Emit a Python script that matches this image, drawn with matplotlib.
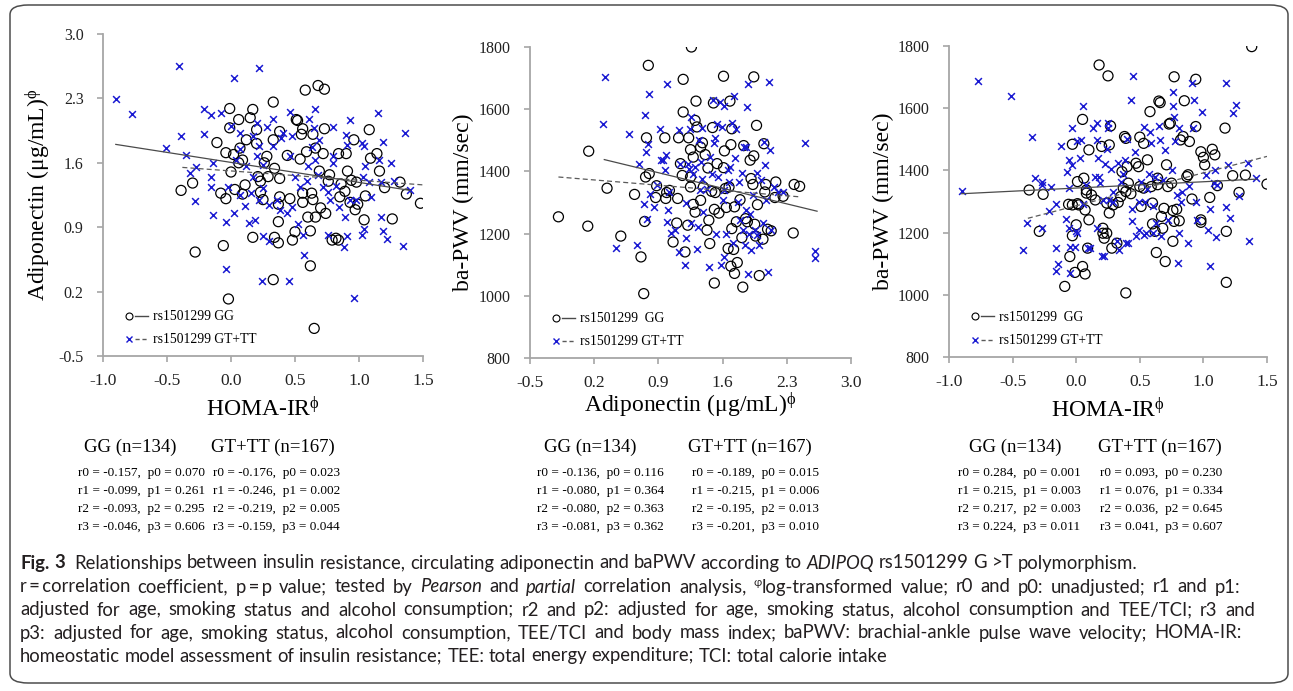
import re
import matplotlib
matplotlib.use("Agg")
import matplotlib.pyplot as plt
from matplotlib import font_manager
from matplotlib.lines import Line2D
from matplotlib.legend_handler import HandlerTuple
from matplotlib.patches import FancyBboxPatch

plt.rcParams['font.family'] = ['Liberation Serif', 'DejaVu Serif']
plt.rcParams['mathtext.fontset'] = 'custom'
plt.rcParams['mathtext.rm'] = 'Liberation Serif'
plt.rcParams['mathtext.it'] = 'Liberation Serif:italic'
plt.rcParams['mathtext.fallback'] = 'stix'
plt.rcParams['axes.unicode_minus'] = False

W, H = 1293, 691

# ---- panel 1: HOMA-IR vs adiponectin ----
p1_gg_x = [-0.39, -0.30, -0.28, -0.11, -0.08, -0.04, -0.06, -0.02, -0.01, -0.01, 0.00, -0.04, 0.02, 0.03, 0.06, 0.07,
           0.06, 0.09, 0.09, 0.12, 0.11, 0.15, 0.17, 0.17, 0.20, 0.20, 0.21, 0.23, 0.23, 0.25, 0.26, 0.28, 0.29, 0.33,
           0.33, 0.34, 0.34, 0.33, 0.38, 0.38, 0.38, 0.37, 0.37, 0.37, 0.44, 0.46, 0.48, 0.50, 0.51, 0.52, 0.54, 0.55,
           0.56, 0.56, 0.56, 0.58, 0.59, 0.60, 0.62, 0.62, 0.63, 0.64, 0.64, 0.65, 0.66, 0.66, 0.68, 0.69, 0.72, 0.73,
           0.73, 0.70, 0.74, 0.76, 0.77, 0.79, 0.82, 0.84, 0.84, 0.85, 0.86, 0.89, 0.90, 0.91, 0.93, 0.94, 0.96, 0.97,
           0.98, 0.99, 1.04, 1.05, 1.08, 1.09, 1.14, 1.16, 1.20, 1.26, 1.32, 1.37, 1.48]
p1_gg_y = [1.30, 1.38, 0.63, 1.82, 1.27, 1.21, 0.70, 0.12, 2.19, 1.98, 1.50, 1.71, 1.69, 1.31, 2.07, 1.76,
           1.60, 1.63, 1.26, 1.85, 1.36, 2.09, 2.18, 0.79, 1.96, 1.81, 1.45, 1.40, 1.28, 1.20, 1.60, 1.67, 1.45, 2.26,
           1.85, 1.54, 0.79, 0.33, 1.94, 1.43, 1.23, 1.15, 0.96, 0.73, 1.68, 1.21, 0.76, 0.85, 2.07, 2.06, 1.64, 1.91,
           1.97, 1.27, 1.17, 2.39, 1.72, 1.01, 0.86, 0.48, 1.27, 1.91, 1.20, -0.20, 1.01, 1.76, 2.44, 1.51, 1.70, 2.40,
           1.97, 1.11, 1.05, 1.40, 1.47, 0.76, 0.78, 0.76, 1.70, 1.23, 1.37, 1.29, 1.70, 1.51, 1.17, 1.41, 1.85, 1.09,
           1.39, 1.15, 0.98, 1.24, 1.96, 1.65, 1.70, 1.51, 1.33, 0.99, 1.39, 1.26, 1.16]
p1_gt_x = [-0.90, -0.77, -0.41, 0.02, 0.22, -0.39, -0.51, -0.35, -0.32, -0.27, -0.21, -0.16, -0.21, -0.08, -0.14, -0.16,
           -0.16, -0.28, -0.14, -0.04, 0.02, -0.04, 0.00, 0.07, 0.04, -0.02, 0.07, 0.11, 0.14, 0.19, 0.17, 0.20, 0.22,
           0.20, 0.25, 0.28, 0.33, 0.33, 0.25, 0.22, 0.30, 0.25, 0.30, 0.24, 0.45, 0.41, 0.39, 0.46, 0.48, 0.46, 0.50,
           0.44, 0.48, 0.52, 0.56, 0.57, 0.61, 0.66, 0.65, 0.69, 0.66, 0.68, 0.72, 0.76, 0.80, 0.80, 0.80, 0.77, 0.76,
           0.88, 0.89, 0.90, 0.93, 0.91, 0.93, 0.91, 0.96, 0.98, 1.02, 1.04, 1.05, 1.03, 1.02, 1.04, 1.09, 1.08, 1.15,
           1.16, 1.19, 1.17, 1.17, 1.19, 1.22, 1.25, 1.27, 1.36, 1.34, 1.40, 0.07, 0.12, 0.17, 0.16, 0.36, 0.38, 0.54,
           0.59, 0.60, 0.63, 0.82, 0.84]
p1_gt_y = [2.29, 2.13, 2.65, 2.52, 2.63, 1.89, 1.76, 1.69, 1.49, 1.55, 2.18, 2.12, 1.91, 2.14, 1.60, 1.45,
           1.34, 1.18, 1.03, 0.96, 1.05, 0.45, 2.00, 1.92, 1.63, 1.34, 1.25, 1.13, 0.95, 0.98, 1.89, 2.03, 1.78,
           1.67, 1.58, 1.99, 2.08, 1.78, 1.33, 1.20, 1.14, 0.80, 0.75, 0.32, 0.32, 1.92, 1.87, 2.15, 1.89, 1.67, 1.45,
           1.05, 1.12, 0.94, 0.81, 0.60, 2.08, 2.19, 1.98, 1.85, 1.63, 1.47, 1.34, 1.28, 1.99, 1.67, 1.60, 1.20, 0.82,
           0.69, 1.01, 1.90, 2.06, 1.79, 1.20, 0.80, 0.13, 1.20, 1.82, 1.78, 1.57, 1.45, 0.82, 0.88, 1.23, 1.39, 2.14,
           1.63, 1.83, 1.39, 1.01, 0.86, 0.77, 1.60, 1.40, 1.92, 0.70, 1.30, 1.75, 1.56, 1.45, 1.27, 1.20, 1.09, 1.34,
           1.40, 1.56, 1.77, 1.35, 1.12]
p1_gg_fit_x = [-0.90, 1.40]
p1_gg_fit_y = [1.80, 1.30]
p1_gt_fit_x = [-0.38, 1.50]
p1_gt_fit_y = [1.55, 1.36]

# ---- panel 2: adiponectin vs ba-PWV ----
p2_gg_x = [-0.19, 0.13, 0.14, 0.34, 0.49, 0.64, 0.71, 0.74, 0.75, 0.77, 0.79, 0.76, 0.80, 0.87, 0.88, 0.97, 0.98,
           0.99, 1.02, 1.06, 1.10, 1.11, 1.12, 1.14, 1.16, 1.17, 1.17, 1.19, 1.22, 1.23, 1.25, 1.25, 1.25, 1.26, 1.28,
           1.28, 1.30, 1.31, 1.32, 1.30, 1.36, 1.36, 1.38, 1.39, 1.41, 1.43, 1.44, 1.45, 1.46, 1.48, 1.49, 1.50, 1.51,
           1.51, 1.52, 1.54, 1.56, 1.61, 1.61, 1.62, 1.63, 1.64, 1.66, 1.67, 1.68, 1.69, 1.69, 1.70, 1.70, 1.72, 1.73,
           1.73, 1.75, 1.76, 1.79, 1.81, 1.82, 1.83, 1.85, 1.87, 1.90, 1.91, 1.93, 1.94, 1.94, 1.95, 1.96, 1.97, 1.98,
           2.00, 2.04, 2.05, 2.06, 2.07, 2.09, 2.13, 2.17, 2.18, 2.26, 2.37, 2.38, 2.44]
p2_gg_y = [1254, 1224, 1465, 1346, 1192, 1326, 1125, 1007, 1239, 1508, 1741, 1382, 1393, 1316, 1354, 1508, 1313,
           1332, 1339, 1173, 1234, 1313, 1508, 1425, 1387, 1696, 1591, 1141, 1227, 1508, 1470, 1382, 1350, 1800, 1446,
           1294, 1564, 1626, 1543, 1269, 1478, 1307, 1492, 1350, 1454, 1211, 1411, 1243, 1168, 1336, 1541, 1620, 1278,
           1041, 1332, 1425, 1266, 1706, 1412, 1466, 1345, 1284, 1152, 1350, 1626, 1486, 1095, 1216, 1537, 1149, 1072,
           1286, 1238, 1107, 1309, 1187, 1028, 1483, 1248, 1238, 1436, 1377, 1358, 1704, 1450, 1230, 1192, 1548, 1293,
           1065, 1182, 1489, 1334, 1358, 1214, 1209, 1316, 1366, 1320, 1202, 1358, 1352]
p2_gt_x = [0.32, 0.30, 0.44, 0.58, 0.67, 0.69, 0.74, 0.75, 0.77, 0.79, 0.80, 0.78, 0.81, 0.85, 0.88, 0.92, 0.93,
           0.95, 0.97, 0.98, 0.99, 0.99, 1.01, 1.02, 1.04, 1.08, 1.12, 1.13, 1.14, 1.19, 1.20, 1.20, 1.22, 1.23, 1.24,
           1.25, 1.26, 1.28, 1.30, 1.32, 1.33, 1.34, 1.35, 1.36, 1.37, 1.38, 1.39, 1.43, 1.45, 1.46, 1.48, 1.49, 1.51,
           1.52, 1.53, 1.54, 1.55, 1.57, 1.58, 1.59, 1.60, 1.61, 1.62, 1.62, 1.64, 1.66, 1.67, 1.68, 1.70, 1.71, 1.72,
           1.74, 1.75, 1.77, 1.78, 1.79, 1.81, 1.82, 1.83, 1.84, 1.85, 1.86, 1.87, 1.88, 1.88, 1.89, 1.90, 1.91, 1.93,
           1.95, 1.97, 1.98, 2.00, 2.02, 2.04, 2.05, 2.06, 2.07, 2.09, 2.11, 2.12, 2.13, 2.16, 2.20, 2.26, 2.50, 2.61,
           2.61]
p2_gt_y = [1704, 1551, 1153, 1521, 1164, 1425, 1296, 1582, 1463, 1487, 1650, 1248, 1328, 1286, 1355, 1537, 1436,
           1436, 1403, 1452, 1682, 1237, 1277, 1334, 1202, 1211, 1532, 1141, 1425, 1100, 1187, 1298, 1425, 1409, 1537,
           1234, 1575, 1393, 1414, 1152, 1221, 1500, 1339, 1430, 1541, 1377, 1269, 1345, 1093, 1446, 1393, 1628, 1491,
           1508, 1200, 1551, 1382, 1623, 1098, 1543, 1307, 1339, 1609, 1125, 1200, 1403, 1366, 1414, 1555, 1170, 1641,
           1444, 1537, 1302, 1366, 1243, 1395, 1211, 1478, 1162, 1478, 1275, 1607, 1680, 1069, 1200, 1264, 1146, 1323,
           1211, 1195, 1395, 1162, 1371, 1234, 1494, 1420, 1307, 1076, 1687, 1470, 1211, 1350, 1334, 1334, 1491, 1144,
           1123]
p2_gg_fit_x = [0.31, 2.63]
p2_gg_fit_y = [1438, 1272]
p2_gt_fit_x = [-0.19, 2.45]
p2_gt_fit_y = [1382, 1318]

# ---- panel 3: HOMA-IR vs ba-PWV ----
p3_gg_x = [-0.37, -0.26, -0.29, -0.09, -0.06, -0.05, -0.03, -0.03, -0.01, -0.03, 0.00, 0.01, 0.01, 0.02, 0.05, 0.05,
           0.06, 0.07, 0.07, 0.08, 0.08, 0.10, 0.09, 0.10, 0.12, 0.15, 0.18, 0.20, 0.21, 0.21, 0.22, 0.24, 0.24, 0.25,
           0.26, 0.26, 0.27, 0.28, 0.29, 0.32, 0.33, 0.35, 0.36, 0.37, 0.38, 0.39, 0.39, 0.39, 0.40, 0.41, 0.43, 0.47,
           0.49, 0.50, 0.50, 0.51, 0.53, 0.53, 0.56, 0.58, 0.59, 0.60, 0.60, 0.62, 0.63, 0.64, 0.64, 0.65, 0.66, 0.67,
           0.68, 0.69, 0.70, 0.71, 0.72, 0.73, 0.74, 0.75, 0.76, 0.76, 0.77, 0.77, 0.79, 0.81, 0.82, 0.84, 0.85, 0.87,
           0.88, 0.89, 0.91, 0.94, 0.94, 0.98, 0.98, 0.98, 1.00, 1.01, 1.05, 1.07, 1.09, 1.11, 1.17, 1.18, 1.18, 1.23,
           1.28, 1.33, 1.38, 1.50]
p3_gg_y = [1337, 1323, 1204, 1027, 1291, 1123, 1484, 1289, 1072, 1190, 1225, 1364, 1293, 1289, 1091, 1564,
           1375, 1273, 1067, 1337, 1327, 1466, 1150, 1241, 1321, 1305, 1739, 1477, 1214, 1198, 1182, 1198, 1295, 1704,
           1482, 1263, 1543, 1150, 1289, 1166, 1297, 1316, 1396, 1343, 1509, 1503, 1006, 1332, 1412, 1359, 1325, 1423,
           1412, 1507, 1348, 1284, 1487, 1343, 1434, 1589, 1348, 1295, 1228, 1204, 1136, 1354, 1375, 1623, 1618, 1252,
           1214, 1278, 1107, 1418, 1348, 1549, 1552, 1359, 1271, 1172, 1236, 1701, 1275, 1238, 1498, 1509, 1624, 1380,
           1386, 1493, 1308, 1693, 1541, 1241, 1233, 1460, 1442, 1418, 1313, 1468, 1450, 1351, 1536, 1204, 1040, 1383,
           1329, 1385, 1798, 1356]
p3_gt_x = [-0.77, -0.51, -0.35, -0.32, -0.27, -0.27, -0.39, -0.42, -0.27, -0.21, -0.20, -0.16, -0.16, -0.14, -0.16,
           -0.12, -0.07, -0.06, -0.06, -0.08, -0.06, -0.05, -0.05, -0.03, -0.03, -0.01, 0.00, 0.01, 0.01, 0.03, 0.04,
           0.05, 0.05, 0.08, 0.09, 0.11, 0.13, 0.15, 0.16, 0.16, 0.16, 0.17, 0.18, 0.19, 0.20, 0.22, 0.21, 0.23, 0.24,
           0.25, 0.26, 0.27, 0.25, 0.29, 0.29, 0.32, 0.33, 0.34, 0.35, 0.37, 0.38, 0.39, 0.40, 0.41, 0.43, 0.44, 0.44,
           0.45, 0.46, 0.47, 0.49, 0.49, 0.51, 0.53, 0.53, 0.54, 0.55, 0.56, 0.57, 0.58, 0.59, 0.60, 0.60, 0.62, 0.63,
           0.65, 0.66, 0.67, 0.68, 0.70, 0.72, 0.75, 0.76, 0.76, 0.77, 0.78, 0.79, 0.80, 0.81, 0.82, 0.81, 0.83, 0.88,
           0.89, 0.91, 0.92, 0.93, 0.94, 0.95, 0.99, 1.02, 1.04, 1.05, 1.05, 1.08, 1.09, 1.10, 1.11, 1.18, 1.18, 1.19,
           1.21, 1.23, 1.26, 1.28, 1.35, 1.36, 1.41, -0.90]
p3_gt_y = [1688, 1640, 1507, 1375, 1364, 1354, 1230, 1145, 1214, 1271, 1348, 1292, 1150, 1100, 1078,
           1477, 1396, 1434, 1343, 1243, 1214, 1153, 1070, 1536, 1418, 1155, 1206, 1198, 1493, 1439, 1498,
           1607, 1292, 1354, 1150, 1150, 1536, 1380, 1214, 1552, 1498, 1439, 1380, 1359, 1126, 1126, 1305, 1421, 1468,
           1552, 1305, 1404, 1536, 1300, 1332, 1172, 1423, 1143, 1364, 1388, 1434, 1166, 1500, 1166, 1626, 1236, 1275,
           1704, 1460, 1188, 1209, 1300, 1364, 1539, 1193, 1300, 1198, 1340, 1388, 1525, 1489, 1286, 1198, 1378, 1232,
           1543, 1498, 1188, 1370, 1466, 1241, 1402, 1653, 1607, 1573, 1493, 1321, 1102, 1200, 1300, 1536, 1332, 1166,
           1350, 1680, 1536, 1626, 1300, 1241, 1589, 1386, 1209, 1275, 1093, 1361, 1402, 1186, 1354, 1680, 1282, 1418,
           1246, 1584, 1610, 1317, 1425, 1172, 1375, 1335]
p3_gg_fit_x = [-0.90, 1.42]
p3_gg_fit_y = [1325, 1372]
p3_gt_fit_x = [-0.38, 1.50]
p3_gt_fit_y = [1246, 1445]

# axis setup
homa_ticks = [-1.0, -0.5, 0.0, 0.5, 1.0, 1.5]
adipo_ticks = [-0.5, 0.2, 0.9, 1.6, 2.3, 3.0]
pwv_ticks = [800, 1000, 1200, 1400, 1600, 1800]

# correlation tables (r, p) for r0..r3
p1_gg_r = [-0.157, -0.099, -0.093, -0.046]
p1_gg_p = [0.070, 0.261, 0.295, 0.606]
p1_gt_r = [-0.176, -0.246, -0.219, -0.159]
p1_gt_p = [0.023, 0.002, 0.005, 0.044]
p2_gg_r = [-0.136, -0.080, -0.080, -0.081]
p2_gg_p = [0.116, 0.364, 0.363, 0.362]
p2_gt_r = [-0.189, -0.215, -0.195, -0.201]
p2_gt_p = [0.015, 0.006, 0.013, 0.010]
p3_gg_r = [0.284, 0.215, 0.217, 0.224]
p3_gg_p = [0.001, 0.003, 0.003, 0.011]
p3_gt_r = [0.093, 0.076, 0.036, 0.041]
p3_gt_p = [0.230, 0.334, 0.645, 0.607]

BLUE = '#1a1ad2'
SPINE = '#a6a6a6'

fig = plt.figure(figsize=(W / 100, H / 100), dpi=100)
fig.patch.set_facecolor('white')

# outer rounded frame
frame = FancyBboxPatch((10 / W, 8 / H), 1278 / W, 678 / H, boxstyle='round,pad=0,rounding_size=0.014',
                       transform=fig.transFigure, facecolor='none', edgecolor='#4d4d4d', linewidth=1.1)
fig.patches.append(frame)


def px_axes(left, top, right, bottom):
    return fig.add_axes([left / W, 1 - bottom / H, (right - left) / W, (bottom - top) / H])


def scatter_panel(ax, gg_x, gg_y, gt_x, gt_y, gg_fit, gt_fit, xlim, ylim, xticks, yticks, xlabel, ylabel, yfmt,
                  xlab_y, ylab_x):
    ax.scatter(gg_x, gg_y, s=52, facecolors='none', edgecolors='black', linewidths=0.9, zorder=3)
    ax.scatter(gt_x, gt_y, s=24, marker='x', color=BLUE, linewidths=1.1, zorder=3)
    ax.plot(gg_fit[0], gg_fit[1], color='#4a4a4a', lw=0.9, zorder=4)
    ax.plot(gt_fit[0], gt_fit[1], color='#5a5a5a', lw=0.9, ls=(0, (4, 2.5)), zorder=4)
    ax.set_xlim(xlim)
    ax.set_ylim(ylim)
    ax.set_xticks(xticks)
    ax.set_yticks(yticks)
    ax.set_xticklabels([f'{t:.1f}' for t in xticks], fontsize=12.5)
    ax.set_yticklabels([yfmt(t) for t in yticks], fontsize=11.5)
    for s in ['top', 'right']:
        ax.spines[s].set_visible(False)
    for s in ['left', 'bottom']:
        ax.spines[s].set_color(SPINE)
        ax.spines[s].set_linewidth(1.3)
    ax.tick_params(axis='both', color=SPINE, width=1.2, length=4, direction='out')
    ax.tick_params(axis='x', pad=8)
    ax.tick_params(axis='y', pad=10)
    ax.set_xlabel(xlabel, fontsize=17, va='center')
    ax.set_ylabel(ylabel, fontsize=17, va='center')
    ax.xaxis.set_label_coords(0.5, xlab_y)
    ax.yaxis.set_label_coords(ylab_x, 0.5)
    for lbl in ax.get_xticklabels() + ax.get_yticklabels():
        lbl.set_color('#222222')
    ax.patch.set_alpha(0)

    h_gg = (Line2D([], [], marker='o', ls='none', mfc='none', mec='black', ms=5, mew=0.8),
            Line2D([], [], color='#4a4a4a', lw=1.0))
    h_gt = (Line2D([], [], marker='x', ls='none', color=BLUE, ms=4.5, mew=1.0),
            Line2D([], [], color='#5a5a5a', lw=1.0, ls=(0, (3, 2))))
    return h_gg, h_gt


homa_label = 'HOMA-IR$^{\\mathrm{ϕ}}$'
adipo_label = 'Adiponectin (μg/mL)$^{\\mathrm{ϕ}}$'
pwv_label = 'ba-PWV (mm/sec)'

ax1 = px_axes(103, 34, 423, 356)
h1 = scatter_panel(ax1, p1_gg_x, p1_gg_y, p1_gt_x, p1_gt_y, (p1_gg_fit_x, p1_gg_fit_y), (p1_gt_fit_x, p1_gt_fit_y),
                   (-1.0, 1.5), (-0.5, 3.0), homa_ticks, adipo_ticks, homa_label, adipo_label, lambda t: f'{t:.1f}',
                   -(409 - 356) / 322, -(103 - 38) / 320)
ax2 = px_axes(530, 47, 851, 358)
h2 = scatter_panel(ax2, p2_gg_x, p2_gg_y, p2_gt_x, p2_gt_y, (p2_gg_fit_x, p2_gg_fit_y), (p2_gt_fit_x, p2_gt_fit_y),
                   (-0.5, 3.0), (800, 1800), adipo_ticks, pwv_ticks, adipo_label, pwv_label, lambda t: f'{t:d}',
                   -(405 - 358) / 311, -(530 - 463) / 321)
ax3 = px_axes(949, 46, 1267, 357)
h3 = scatter_panel(ax3, p3_gg_x, p3_gg_y, p3_gt_x, p3_gt_y, (p3_gg_fit_x, p3_gg_fit_y), (p3_gt_fit_x, p3_gt_fit_y),
                   (-1.0, 1.5), (800, 1800), homa_ticks, pwv_ticks, homa_label, pwv_label, lambda t: f'{t:d}',
                   -(410 - 357) / 311, -(949 - 883) / 318)

for ax, (hg, ht), lab_gg in [(ax1, h1, 'rs1501299 GG'), (ax2, h2, 'rs1501299  GG'), (ax3, h3, 'rs1501299  GG')]:
    ax.legend([hg, ht], [lab_gg, 'rs1501299 GT+TT'], handler_map={tuple: HandlerTuple(ndivide=None, pad=0)},
              loc='lower left', bbox_to_anchor=(0.03, 0.0), frameon=False, fontsize=9.8, handlelength=1.9,
              handletextpad=0.4, labelspacing=0.75, borderaxespad=0.3)

# correlation tables under each panel
tables = [
    (130, 78, p1_gg_r, p1_gg_p, 273, 213, p1_gt_r, p1_gt_p),
    (590, 537, p2_gg_r, p2_gg_p, 750, 692, p2_gt_r, p2_gt_p),
    (1015, 958, p3_gg_r, p3_gg_p, 1160, 1100, p3_gt_r, p3_gt_p),
]
for gg_c, gg_l, gg_r, gg_p, gt_c, gt_l, gt_r, gt_p in tables:
    fig.text(gg_c / W, 1 - 447 / H, 'GG (n=134)', ha='center', va='center', fontsize=13.5)
    fig.text(gt_c / W, 1 - 447 / H, 'GT+TT (n=167)', ha='center', va='center', fontsize=13.5)
    for i in range(4):
        y = 1 - (473 + 18 * i) / H
        fig.text(gg_l / W, y, f'r{i} = {gg_r[i]:.3f},  p{i} = {gg_p[i]:.3f}', ha='left', va='center', fontsize=9.5)
        fig.text(gt_l / W, y, f'r{i} = {gt_r[i]:.3f},  p{i} = {gt_p[i]:.3f}', ha='left', va='center', fontsize=9.5)

# caption
names = {f.name for f in font_manager.fontManager.ttflist}
cap_family = 'Lato' if 'Lato' in names else 'DejaVu Sans'
cap_font = dict(family=[cap_family, 'DejaVu Sans'])

caption = [
    [('Fig. 3', 'bold'), ('  Relationships between insulin resistance, circulating adiponectin and baPWV according to ', 'n'),
     ('ADIPOQ', 'it'), (' rs1501299 G >T polymorphism.', 'n')],
    [('r\u2009=\u2009correlation coefficient, p\u2009=\u2009p value; tested by ', 'n'), ('Pearson', 'it'),
     (' and ', 'n'), ('partial', 'it'), (' correlation analysis, ', 'n'), ('φ', 'sup'),
     ('log-transformed value; r0 and p0: unadjusted; r1 and p1:', 'n')],
    [('adjusted for age, smoking status and alcohol consumption; r2 and p2: adjusted for age, smoking status, '
      'alcohol consumption and TEE/TCI; r3 and', 'n')],
    [('p3: adjusted for age, smoking status, alcohol consumption, TEE/TCI and body mass index; baPWV: '
      'brachial-ankle pulse wave velocity; HOMA-IR:', 'n')],
    [('homeostatic model assessment of insulin resistance; TEE: total energy expenditure; TCI: total calorie intake',
      'n')],
]
cap_y = [563, 587, 610, 633, 656]
cap_justify = [None, 1240, 1255, 1242, None]

renderer = fig.canvas.get_renderer()


def cap_kw(style, size):
    kw = dict(fontsize=size, color='#231f20', va='center', ha='left', **cap_font)
    if style == 'bold':
        kw['fontweight'] = 'bold'
    elif style == 'it':
        kw['fontstyle'] = 'italic'
    elif style == 'sup':
        kw['fontsize'] = size * 0.6
    return kw


def text_width(txt, style, size):
    t = fig.text(0, 0, txt, **cap_kw(style, size))
    w = t.get_window_extent(renderer).width
    t.remove()
    return w


# size so that the widest body line runs most of the way across; the rest is justified
cap_size = 12 * (1190 - 20) / text_width(caption[2][0][0], 'n', 12)

for line, yy, right in zip(caption, cap_y, cap_justify):
    pieces = []
    for txt, style in line:
        for part in re.split(r'( +)', txt):
            if part:
                pieces.append((part, style))
    space_w = text_width('a a', 'n', cap_size) - text_width('aa', 'n', cap_size)
    widths = []
    n_space = 0
    for part, style in pieces:
        if part.strip() == '':
            widths.append(space_w * len(part))
            n_space += len(part)
        else:
            widths.append(text_width(part, style, cap_size))
    extra = 0
    if right is not None and n_space:
        extra = max(0, (right - 20 - sum(widths)) / n_space)
    x = 20
    for (part, style), w in zip(pieces, widths):
        if part.strip() == '':
            x += w + extra * len(part)
            continue
        y = 1 - (yy - 5) / H if style == 'sup' else 1 - yy / H
        fig.text(x / W, y, part, **cap_kw(style, cap_size))
        x += w

fig.savefig('out.png', dpi=100)
